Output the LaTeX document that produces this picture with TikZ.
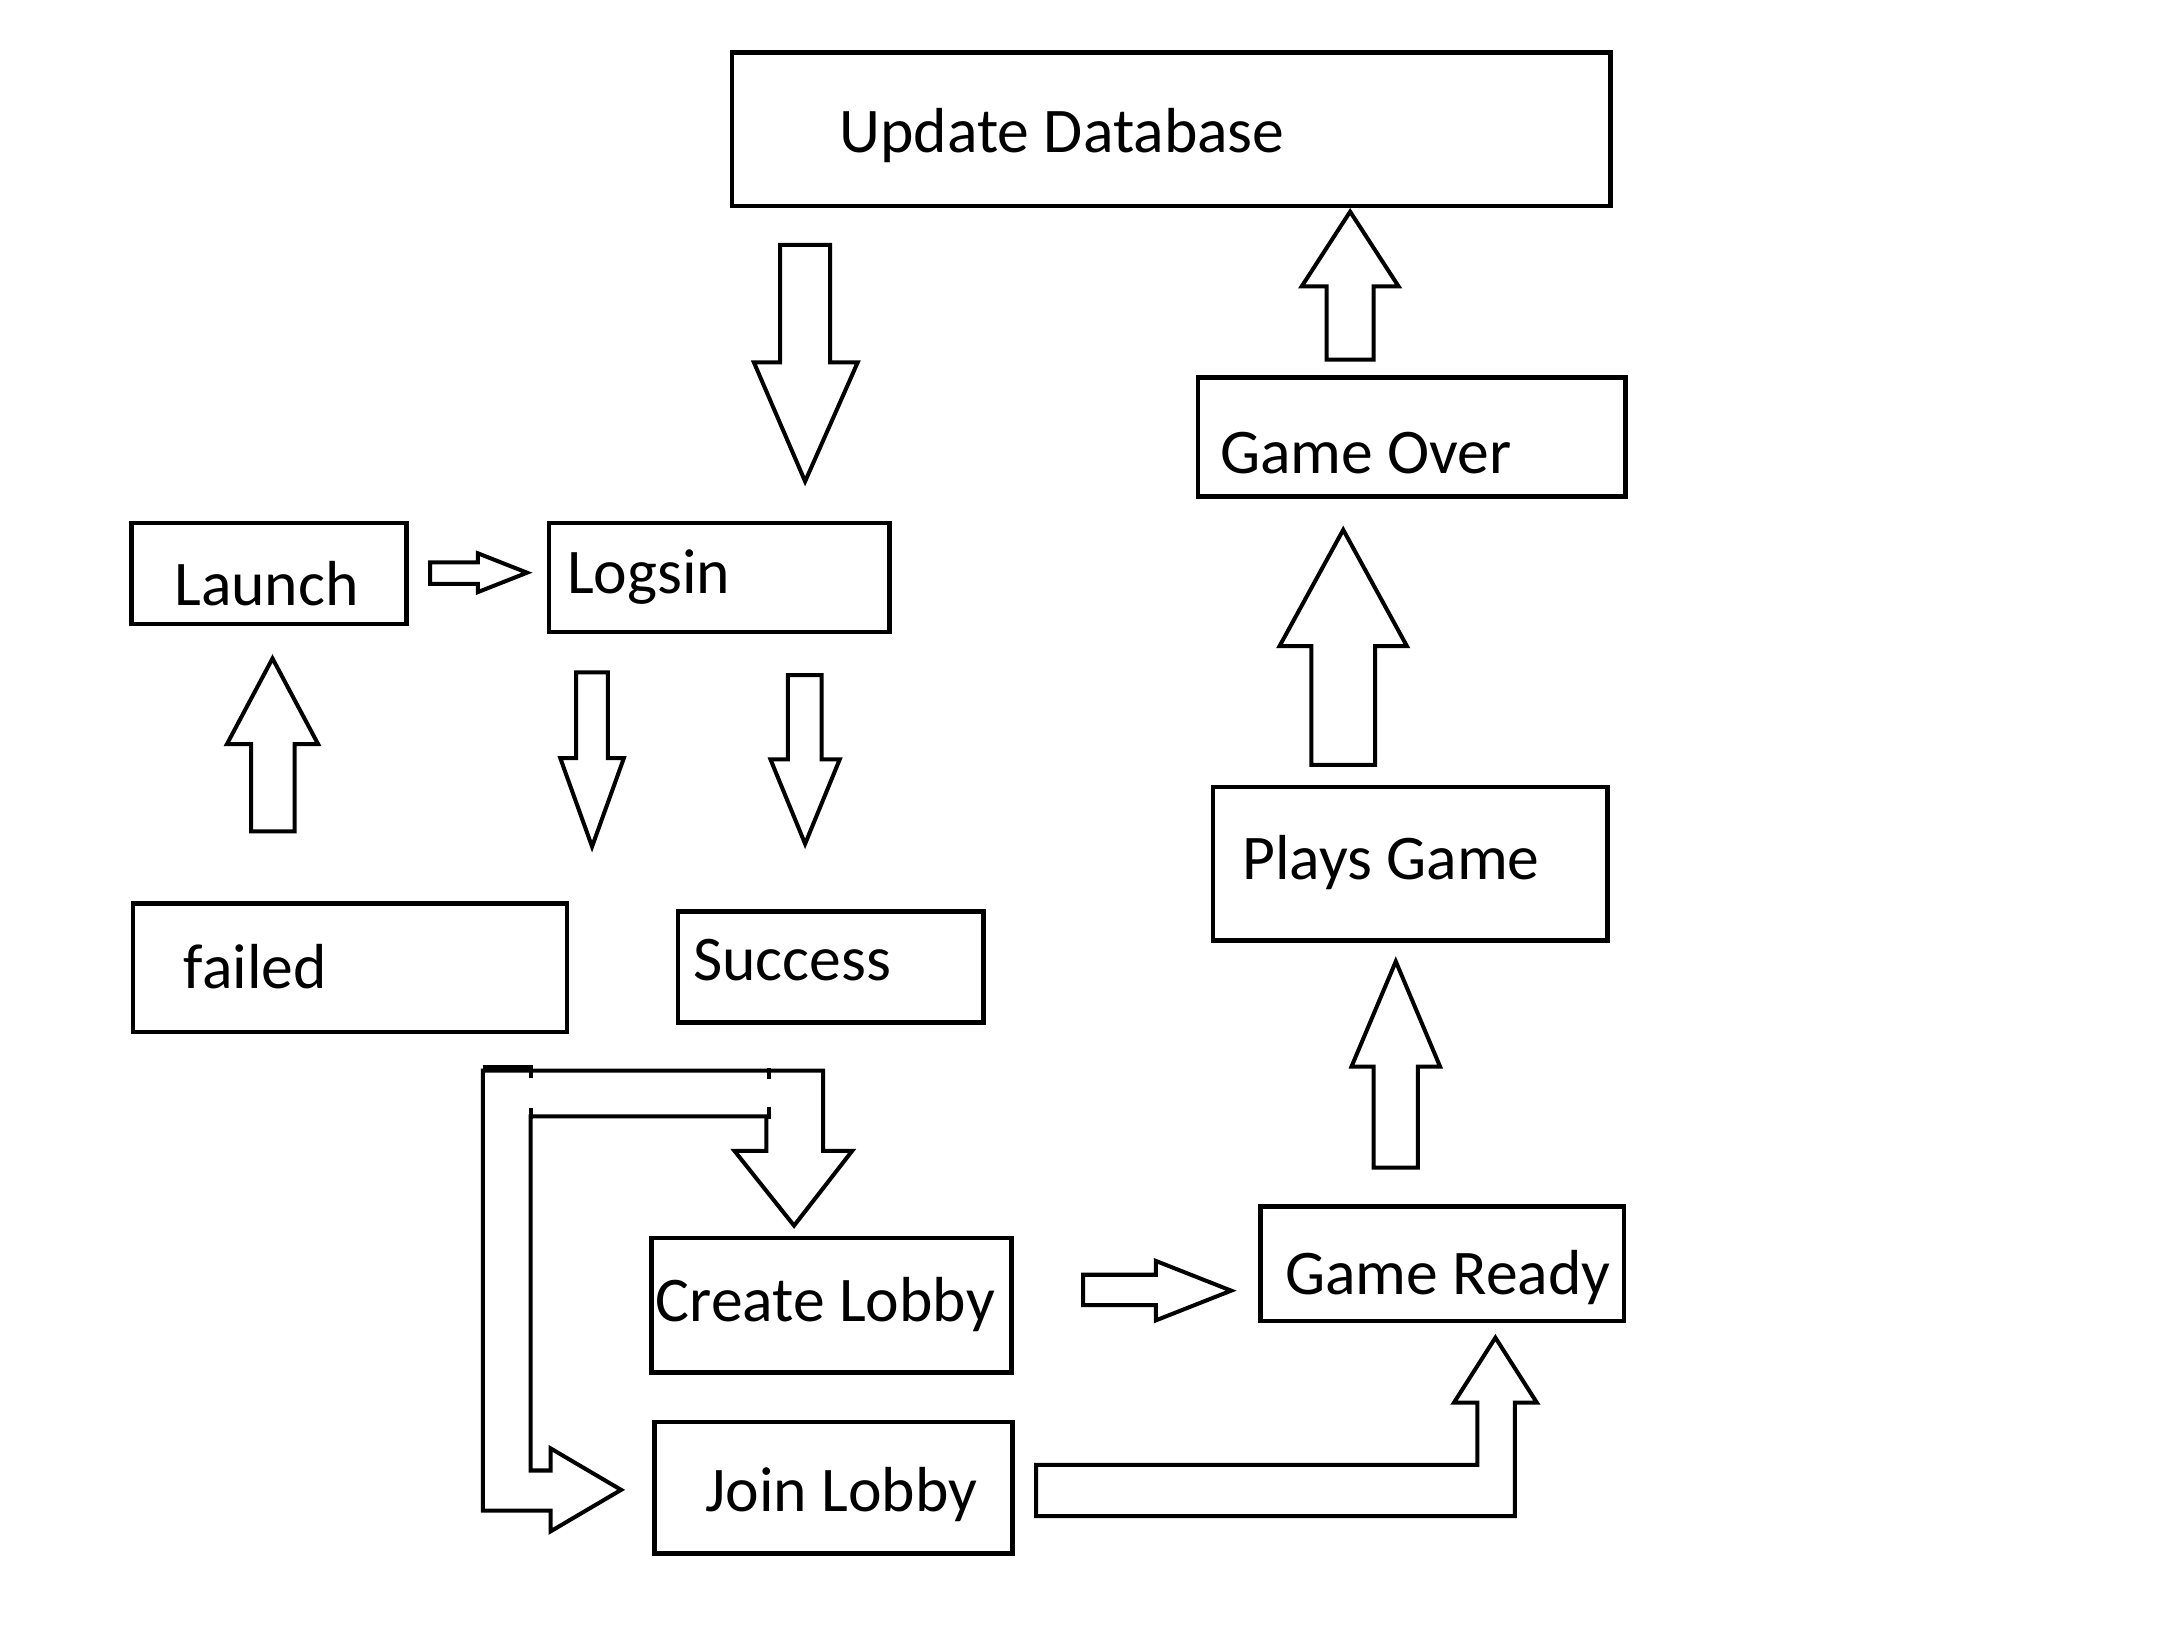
\documentclass[tikz,border=0pt]{standalone}
\usepackage{fontspec}
\setmainfont{Carlito}
\newcommand\mkbox[5]{\node[box, minimum width={#4-#2}, minimum height={#5-#3}] (#1) at (#2,#3) {};}
\tikzset{
  box/.style={draw, line width=3.3pt, inner sep=0pt, outer sep=0pt, anchor=north west},
  lbl/.style={inner sep=0pt, outer sep=0pt, anchor=base west, font=\fontsize{46}{55}\selectfont},
  barrow/.style={draw, line width=2.9pt, line join=miter, miter limit=20},
  stub/.style={draw, line width=2.9pt}
}
\begin{document}
\begin{tikzpicture}[x=1pt,y=-1pt]
\useasboundingbox[fill=white] (0,0) rectangle (1560,1174);

% boxes
\mkbox{upd}{529}{38}{1164}{149}
\mkbox{over}{866}{273}{1175}{359}
\mkbox{plays}{877}{569}{1162}{680}
\mkbox{ready}{911}{872}{1174}{955}
\mkbox{launch}{95}{378}{294}{451}
\mkbox{logsin}{397}{378}{643}{457}
\mkbox{failed}{96}{653}{410}{746}
\mkbox{success}{490}{659}{711}{739}
\mkbox{create}{471}{895}{731}{992}
\mkbox{join}{473}{1028}{732}{1123}

% labels
\node[lbl] (t-upd) at (607,110) {Update Database};
\node[lbl] (t-over) at (882,342) {Game Over};
\node[lbl] (t-plays) at (898,636) {Plays Game};
\node[lbl] (t-ready) at (929,935.5) {Game Ready};
\node[lbl] (t-launch) at (126,438) {Launch};
\node[lbl] (t-logsin) at (410,429) {Logsin};
\node[lbl] (t-failed) at (133,714.5) {failed};
\node[lbl] (t-success) at (501,709) {Success};
\node[lbl] (t-create) at (474,955.5) {Create Lobby};
\node[lbl] (t-join) at (510,1093) {Join Lobby};

% block arrows
% Update Database -> Logsin (down)
\draw[barrow] (564,177) -- (600,177) -- (600,262) -- (620,262) -- (582,348) -- (545,262) -- (564,262) -- cycle;
% Game Over -> Update Database (up)
\draw[barrow] (959,260) -- (993,260) -- (993,207) -- (1011,207) -- (976,153) -- (941,207) -- (959,207) -- cycle;
% Plays Game -> Game Over (up)
\draw[barrow] (948,553) -- (994,553) -- (994,467) -- (1017,467) -- (971,383) -- (925,467) -- (948,467) -- cycle;
% Game Ready -> Plays Game (up)
\draw[barrow] (993,844) -- (1025,844) -- (1025,771) -- (1041,771) -- (1009,695) -- (977,771) -- (993,771) -- cycle;
% Launch -> Logsin (right)
\draw[barrow] (311,406.5) -- (345.5,406.5) -- (345.5,400) -- (381,414) -- (345.5,428) -- (345.5,422) -- (311,422) -- cycle;
% failed -> Launch (up)
\draw[barrow] (181.5,601) -- (213,601) -- (213,538) -- (230,538) -- (197,476) -- (164,538) -- (181.5,538) -- cycle;
% Logsin -> failed (down)
\draw[barrow] (416.5,486) -- (439.5,486) -- (439.5,548) -- (451,548) -- (428,612) -- (405,548) -- (416.5,548) -- cycle;
% Logsin -> Success (down)
\draw[barrow] (569.5,488) -- (594,488) -- (594,549) -- (607,549) -- (582,610) -- (557,549) -- (569.5,549) -- cycle;
% Create Lobby -> Game Ready (right)
\draw[barrow] (783,921.5) -- (835.5,921.5) -- (835.5,911.5) -- (890,933) -- (835.5,954.5) -- (835.5,943.5) -- (783,943.5) -- cycle;
% Join Lobby -> Game Ready (bent)
\draw[barrow] (749,1059) -- (1068,1059) -- (1068,1014) -- (1051,1014) -- (1081,967) -- (1111,1014) -- (1095,1014) -- (1095,1096) -- (749,1096) -- cycle;
% Success -> Create Lobby / Join Lobby (forked bent arrow)
\draw[barrow] (349,774) -- (595,774) -- (595,832) -- (616,832) -- (574,886) -- (531,832) -- (554,832) -- (554,807) -- (383.5,807) -- (383.5,1063) -- (398,1063) -- (398,1047) -- (449,1077) -- (398,1107) -- (398,1092) -- (349,1092) -- cycle;
% small hand-drawn marks on the forked arrow
\draw[stub] (349,771.5) -- (385,771.5);
\draw[stub] (384,770) -- (384,779);
\draw[stub] (556,772) -- (556,780);
\draw[stub] (384,801) -- (384,809);
\draw[stub] (556,800) -- (556,809);
\end{tikzpicture}
\end{document}
